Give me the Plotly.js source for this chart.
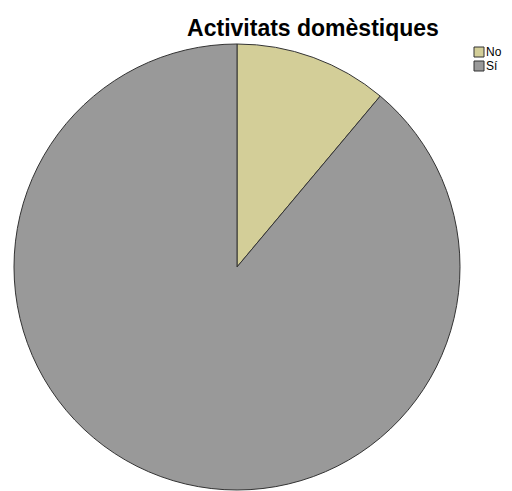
<!DOCTYPE html>
<html>
<head>
<meta charset="utf-8">
<script src="https://cdn.plot.ly/plotly-3.0.1.min.js"></script>
<style>html,body{margin:0;padding:0;background:#fff;}#chart{width:512px;height:491px;}</style>
</head>
<body>
<div id="chart"></div>
<script>
const categories = ["No", "Sí"];
const values = [11.1, 88.9];
const colors = ["#D3CE98", "#999999"];
const W = 512, H = 491;
const data = [{
  type: "pie",
  labels: categories,
  values: values,
  sort: false,
  direction: "clockwise",
  rotation: 0,
  textinfo: "none",
  hoverinfo: "none",
  showlegend: false,
  marker: {colors: colors, line: {color: "#333333", width: 1}},
  domain: {x: [11 / W, 463 / W], y: [1 - 490 / H, 1 - 44 / H]}
}];
// legend built from categories / colors
const shapes = [], annotations = [];
categories.forEach((c, i) => {
  const top = 47 + i * 14;
  shapes.push({
    type: "rect", xref: "paper", yref: "paper",
    x0: 474 / W, x1: 484 / W, y0: 1 - (top + 10) / H, y1: 1 - top / H,
    fillcolor: colors[i], line: {color: "#333333", width: 1}
  });
  annotations.push({
    xref: "paper", yref: "paper", x: 485 / W, y: 1 - (top + 5) / H,
    xanchor: "left", yanchor: "middle", showarrow: false, text: c,
    borderpad: 0,
    font: {family: "Liberation Sans, Arial, sans-serif", size: 12, color: "#000"}
  });
});
const layout = {
  width: W, height: H,
  margin: {l: 0, r: 0, t: 0, b: 0, pad: 0, autoexpand: false},
  paper_bgcolor: "#ffffff",
  showlegend: false,
  shapes: shapes,
  annotations: annotations,
  title: {
    text: "<b>Activitats domèstiques</b>",
    font: {family: "Liberation Sans, Arial, sans-serif", size: 23, color: "#000"},
    x: 313 / W, xanchor: "center", y: 1 - 28 / H, yanchor: "middle"
  }
};
Plotly.newPlot("chart", data, layout, {displayModeBar: false, staticPlot: true});
</script>
</body>
</html>
